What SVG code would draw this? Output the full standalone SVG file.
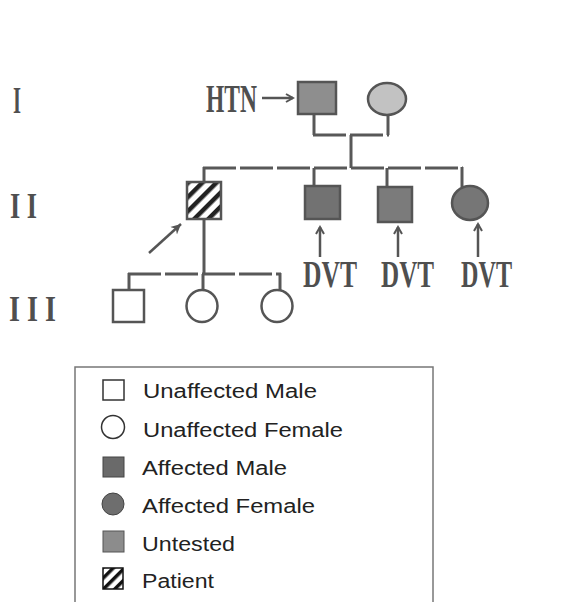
<svg xmlns="http://www.w3.org/2000/svg" width="563" height="602" viewBox="0 0 563 602">
<defs>
<style>
.ln{stroke:#585858;stroke-width:3;fill:none}
.dash{stroke-dasharray:33 4}
.shape{stroke:#555;stroke-width:2.5}
.lbl{font-family:"Liberation Serif",serif;font-weight:bold;fill:#4f4f4f}
.leg{font-family:"Liberation Sans",Arial,sans-serif;font-size:20px;fill:#222}
.arr{stroke:#555;stroke-width:2.5;fill:none}
</style>
<pattern id="hatch" width="10" height="10" patternUnits="userSpaceOnUse" patternTransform="rotate(45)">
<rect width="10" height="10" fill="#fff"/>
<rect x="0" y="0" width="4.5" height="10" fill="#222"/>
</pattern>
<pattern id="hatchS" width="8" height="8" patternUnits="userSpaceOnUse" patternTransform="rotate(45)">
<rect width="8" height="8" fill="#fff"/>
<rect x="0" y="0" width="3.5" height="8" fill="#111"/>
</pattern>
<marker id="open" markerWidth="10" markerHeight="10" refX="8" refY="5" orient="auto" markerUnits="userSpaceOnUse">
<path d="M1,1 L8,5 L1,9" fill="none" stroke="#555" stroke-width="2"/>
</marker>
<marker id="fill" markerWidth="12" markerHeight="12" refX="10" refY="6" orient="auto" markerUnits="userSpaceOnUse">
<path d="M0,1 L10,6 L0,11 L3,6 Z" fill="#555"/>
</marker>
</defs>
<rect width="563" height="602" fill="#fff"/>

<g id="generation-labels">
<text class="lbl" x="13" y="113" font-size="38" textLength="8" lengthAdjust="spacingAndGlyphs">I</text>
<text class="lbl" x="10" y="218" font-size="36" textLength="27" lengthAdjust="spacingAndGlyphs">I I</text>
<text class="lbl" x="9" y="321" font-size="36" textLength="47" lengthAdjust="spacingAndGlyphs">I I I</text>
</g>

<g id="connectors">
<line class="ln" x1="314" y1="114" x2="314" y2="135"/>
<line class="ln" x1="388" y1="115" x2="388" y2="135"/>
<line class="ln dash" x1="313" y1="135" x2="389" y2="135"/>
<line class="ln" x1="351" y1="135" x2="351" y2="168"/>
<line class="ln dash" x1="203" y1="168" x2="463" y2="168"/>
<line class="ln" x1="204" y1="167" x2="204" y2="182"/>
<line class="ln" x1="314" y1="168" x2="314" y2="186"/>
<line class="ln" x1="387" y1="168" x2="387" y2="187"/>
<line class="ln" x1="462" y1="167" x2="462" y2="187"/>
<line class="ln" x1="204" y1="219" x2="204" y2="274"/>
<line class="ln dash" x1="128" y1="274" x2="281" y2="274"/>
<line class="ln" x1="129" y1="273" x2="129" y2="290"/>
<line class="ln" x1="203" y1="274" x2="203" y2="290"/>
<line class="ln" x1="280" y1="273" x2="280" y2="291"/>
</g>

<g id="annotations">
<text class="lbl" x="206" y="112" font-size="40" textLength="51" lengthAdjust="spacingAndGlyphs">HTN</text>
<line class="arr" x1="262" y1="98" x2="293" y2="98" marker-end="url(#open)"/>
<line class="arr" x1="320" y1="257" x2="320" y2="227" marker-end="url(#open)"/>
<line class="arr" x1="398" y1="257" x2="398" y2="227" marker-end="url(#open)"/>
<line class="arr" x1="478" y1="257" x2="478" y2="224" marker-end="url(#open)"/>
<line class="arr" x1="149" y1="253" x2="181" y2="224" marker-end="url(#fill)"/>
<text class="lbl" x="303" y="287" font-size="37" textLength="54" lengthAdjust="spacingAndGlyphs">DVT</text>
<text class="lbl" x="381" y="287" font-size="37" textLength="53" lengthAdjust="spacingAndGlyphs">DVT</text>
<text class="lbl" x="461" y="287" font-size="37" textLength="51" lengthAdjust="spacingAndGlyphs">DVT</text>
</g>

<g id="I-1"><rect class="shape" x="298" y="82" width="38" height="32" fill="#8e8e8e"/></g>
<g id="I-2"><ellipse class="shape" cx="387" cy="99" rx="19" ry="16" fill="#c2c2c2"/></g>
<g id="II-1"><rect class="shape" x="187" y="182" width="34" height="37" fill="url(#hatch)"/></g>
<g id="II-2"><rect class="shape" x="305" y="186" width="35" height="33" fill="#727272"/></g>
<g id="II-3"><rect class="shape" x="378" y="187" width="34" height="35" fill="#7b7b7b"/></g>
<g id="II-4"><ellipse class="shape" cx="470" cy="203" rx="18" ry="17" fill="#767676"/></g>
<g id="III-1"><rect class="shape" x="113" y="290" width="31" height="32" fill="#fff"/></g>
<g id="III-2"><ellipse class="shape" cx="202" cy="306" rx="15.5" ry="16" fill="#fff"/></g>
<g id="III-3"><ellipse class="shape" cx="277" cy="306" rx="15.5" ry="16" fill="#fff"/></g>

<g id="legend">
<rect x="75" y="367" width="358" height="240" fill="none" stroke="#777" stroke-width="1.5"/>
<rect x="103" y="380" width="21" height="20" fill="#fff" stroke="#333" stroke-width="1.5"/>
<text class="leg" x="143" y="398" textLength="174" lengthAdjust="spacingAndGlyphs">Unaffected Male</text>
<circle cx="113" cy="427" r="11.5" fill="#fff" stroke="#333" stroke-width="1.5"/>
<text class="leg" x="143" y="437" textLength="200" lengthAdjust="spacingAndGlyphs">Unaffected Female</text>
<rect x="103" y="457" width="21" height="20" fill="#6a6a6a" stroke="#444" stroke-width="1"/>
<text class="leg" x="142" y="475" textLength="145" lengthAdjust="spacingAndGlyphs">Affected Male</text>
<circle cx="113" cy="504" r="11" fill="#6e6e6e" stroke="#444" stroke-width="1"/>
<text class="leg" x="142" y="513" textLength="173" lengthAdjust="spacingAndGlyphs">Affected Female</text>
<rect x="103" y="531" width="21" height="21" fill="#8c8c8c" stroke="#555" stroke-width="1"/>
<text class="leg" x="142" y="551" textLength="93" lengthAdjust="spacingAndGlyphs">Untested</text>
<rect x="103" y="568" width="20" height="21" fill="url(#hatchS)" stroke="#111" stroke-width="1.5"/>
<text class="leg" x="142" y="588" textLength="72" lengthAdjust="spacingAndGlyphs">Patient</text>
</g>
</svg>
